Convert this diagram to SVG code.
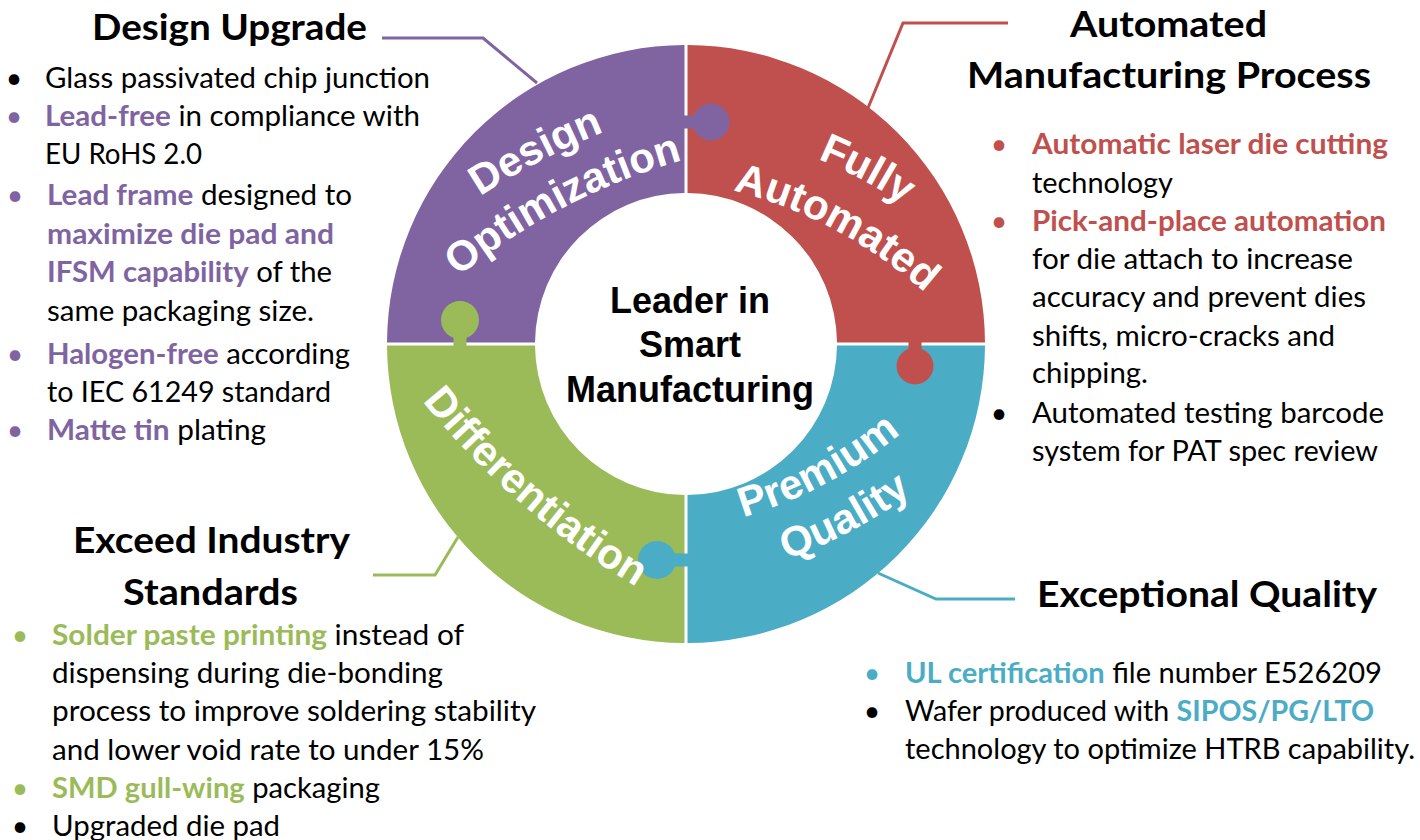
<svg xmlns="http://www.w3.org/2000/svg" width="1420" height="840" viewBox="0 0 1420 840">
<defs>
<style>
.body{font-family:Lato,'Liberation Sans',sans-serif;font-size:28.5px;fill:#000}
.head{font-family:Lato,'Liberation Sans',sans-serif;font-size:37px;font-weight:700;fill:#000}
.b{font-weight:700}
.pu{fill:#8064A2}.rd{fill:#C0504D}.bl{fill:#4BACC6}.gr{fill:#9BBB59}
.bul{font-family:Lato,'Liberation Sans',sans-serif;font-size:28.5px;text-anchor:middle}
.ring{font-family:'Liberation Sans',Arial,sans-serif;font-size:42px;font-weight:700;fill:#fff}
.ctr{font-family:'Liberation Sans',Arial,sans-serif;font-size:36px;font-weight:700;fill:#000;text-anchor:middle}
.lead{fill:none;stroke-width:3}
</style>
<path id="pOpt" d="M391.2,340 A629,629 0 0 1 772.9,141.4"/>
<path id="pDes" d="M352.9,304.9 A681,681 0 0 1 766.1,89.9"/>
<path id="pAut" d="M684.2,181 A457,457 0 0 1 960.2,327.8"/>
<path id="pFul" d="M692.1,124.6 A514,514 0 0 1 1002.6,289.7"/>
<path id="pPre" d="M678.5,531.2 A447,447 0 0 0 948.5,387.6"/>
<path id="pQua" d="M686,584.6 A501,501 0 0 0 988.6,423.7"/>
<path id="pDif" d="M390.6,358.5 A800,800 0 0 0 682.7,612.4"/>
</defs>
<rect width="1420" height="840" fill="#fff"/>

<g id="connectors">
<polyline class="lead" stroke="#8064A2" points="382,38 483,38 537,83"/>
<polyline class="lead" stroke="#C0504D" points="868,108 903,23 1008,23"/>
<polyline class="lead" stroke="#4BACC6" points="878,573 936,599 1015,599"/>
<polyline class="lead" stroke="#9BBB59" points="458,537 435,575 373,575"/>
</g>

<g id="ring">
<g id="seg-design">
<path class="pu" d="M387,342.5 A299,299 0 0 1 684.5,45 L684.5,193 A151,151 0 0 0 535,342.5 Z"/>
</g>
<g id="seg-automated">
<path class="rd" d="M687.5,45 A299,299 0 0 1 985,342.5 L837,342.5 A151,151 0 0 0 687.5,193 Z"/>
</g>
<g id="seg-quality">
<path class="bl" d="M985,345.5 A299,299 0 0 1 687.5,643 L687.5,495 A151,151 0 0 0 837,345.5 Z"/>
</g>
<g id="seg-diff">
<path class="gr" d="M684.5,643 A299,299 0 0 1 387,345.5 L535,345.5 A151,151 0 0 0 684.5,495 Z"/>
</g>
<g id="knobs">
<rect class="pu" x="682" y="115.5" width="20" height="13"/>
<circle class="pu" cx="711" cy="122" r="18.5"/>
<rect class="rd" x="908.5" y="340" width="13" height="18"/>
<circle class="rd" cx="915" cy="366" r="18.5"/>
<rect class="bl" x="670" y="553.5" width="20" height="13"/>
<circle class="bl" cx="657" cy="560" r="19"/>
<rect class="gr" x="453.5" y="330" width="13" height="19"/>
<circle class="gr" cx="460" cy="320" r="19"/>
</g>
<g id="ring-labels">
<text class="ring"><textPath href="#pDes" startOffset="50%" text-anchor="middle">Design</textPath></text>
<text class="ring"><textPath href="#pOpt" startOffset="50%" text-anchor="middle">Optimization</textPath></text>
<text class="ring"><textPath href="#pFul" startOffset="50%" text-anchor="middle">Fully</textPath></text>
<text class="ring"><textPath href="#pAut" startOffset="50%" text-anchor="middle">Automated</textPath></text>
<text class="ring"><textPath href="#pPre" startOffset="50%" text-anchor="middle">Premium</textPath></text>
<text class="ring"><textPath href="#pQua" startOffset="50%" text-anchor="middle">Quality</textPath></text>
<text class="ring"><textPath href="#pDif" startOffset="50%" text-anchor="middle">Differentiation</textPath></text>
</g>
</g>

<g id="center">
<text class="ctr" x="690" y="313">Leader in</text>
<text class="ctr" x="690" y="357">Smart</text>
<text class="ctr" x="690" y="402">Manufacturing</text>
</g>

<g id="design-upgrade">
<text class="head" x="92" y="40" textLength="275" lengthAdjust="spacingAndGlyphs">Design Upgrade</text>
<text class="bul" x="14" y="88">•</text>
<text class="body" x="45" y="88" textLength="385" lengthAdjust="spacingAndGlyphs">Glass passivated chip junction</text>
<text class="bul pu" x="14" y="126">•</text>
<text class="body" x="45" y="126" textLength="375" lengthAdjust="spacingAndGlyphs"><tspan class="b pu">Lead-free</tspan> in compliance with</text>
<text class="body" x="45" y="164" textLength="157" lengthAdjust="spacingAndGlyphs">EU RoHS 2.0</text>
<text class="bul pu" x="15" y="205">•</text>
<text class="body" x="47" y="205" textLength="305" lengthAdjust="spacingAndGlyphs"><tspan class="b pu">Lead frame</tspan> designed to</text>
<text class="body b pu" x="47" y="244" textLength="287" lengthAdjust="spacingAndGlyphs">maximize die pad and</text>
<text class="body" x="47" y="282" textLength="285" lengthAdjust="spacingAndGlyphs"><tspan class="b pu">IFSM capability</tspan> of the</text>
<text class="body" x="47" y="321" textLength="267" lengthAdjust="spacingAndGlyphs">same packaging size.</text>
<text class="bul pu" x="15" y="364">•</text>
<text class="body" x="47" y="364" textLength="303" lengthAdjust="spacingAndGlyphs"><tspan class="b pu">Halogen-free</tspan> according</text>
<text class="body" x="47" y="402" textLength="284" lengthAdjust="spacingAndGlyphs">to IEC 61249 standard</text>
<text class="bul pu" x="15" y="440">•</text>
<text class="body" x="47" y="440" textLength="219" lengthAdjust="spacingAndGlyphs"><tspan class="b pu">Matte tin</tspan> plating</text>
</g>

<g id="automated-process">
<text class="head" x="1070" y="37" textLength="197" lengthAdjust="spacingAndGlyphs">Automated</text>
<text class="head" x="967" y="88" textLength="404" lengthAdjust="spacingAndGlyphs">Manufacturing Process</text>
<text class="bul rd" x="999" y="154">•</text>
<text class="body b rd" x="1032" y="154" textLength="356" lengthAdjust="spacingAndGlyphs">Automatic laser die cutting</text>
<text class="body" x="1032" y="193" textLength="141" lengthAdjust="spacingAndGlyphs">technology</text>
<text class="bul rd" x="999" y="231">•</text>
<text class="body b rd" x="1032" y="231" textLength="354" lengthAdjust="spacingAndGlyphs">Pick-and-place automation</text>
<text class="body" x="1032" y="269" textLength="321" lengthAdjust="spacingAndGlyphs">for die attach to increase</text>
<text class="body" x="1032" y="307" textLength="334" lengthAdjust="spacingAndGlyphs">accuracy and prevent dies</text>
<text class="body" x="1032" y="346" textLength="303" lengthAdjust="spacingAndGlyphs">shifts, micro-cracks and</text>
<text class="body" x="1032" y="383" textLength="116" lengthAdjust="spacingAndGlyphs">chipping.</text>
<text class="bul" x="999" y="423">•</text>
<text class="body" x="1032" y="423" textLength="352" lengthAdjust="spacingAndGlyphs">Automated testing barcode</text>
<text class="body" x="1032" y="461" textLength="346" lengthAdjust="spacingAndGlyphs">system for PAT spec review</text>
</g>

<g id="exceed-standards">
<text class="head" x="73" y="553" textLength="277" lengthAdjust="spacingAndGlyphs">Exceed Industry</text>
<text class="head" x="123" y="605" textLength="175" lengthAdjust="spacingAndGlyphs">Standards</text>
<text class="bul gr" x="20" y="645">•</text>
<text class="body" x="52" y="645" textLength="412" lengthAdjust="spacingAndGlyphs"><tspan class="b gr">Solder paste printing</tspan> instead of</text>
<text class="body" x="52" y="683" textLength="391" lengthAdjust="spacingAndGlyphs">dispensing during die-bonding</text>
<text class="body" x="52" y="721" textLength="484" lengthAdjust="spacingAndGlyphs">process to improve soldering stability</text>
<text class="body" x="52" y="760" textLength="432" lengthAdjust="spacingAndGlyphs">and lower void rate to under 15%</text>
<text class="bul gr" x="20" y="798">•</text>
<text class="body" x="52" y="798" textLength="328" lengthAdjust="spacingAndGlyphs"><tspan class="b gr">SMD gull-wing</tspan> packaging</text>
<text class="bul" x="20" y="836">•</text>
<text class="body" x="52" y="836" textLength="228" lengthAdjust="spacingAndGlyphs">Upgraded die pad</text>
</g>

<g id="exceptional-quality">
<text class="head" x="1037" y="607" textLength="340" lengthAdjust="spacingAndGlyphs">Exceptional Quality</text>
<text class="bul bl" x="872" y="683">•</text>
<text class="body" x="905" y="683" textLength="477" lengthAdjust="spacingAndGlyphs"><tspan class="b bl">UL certification</tspan> file number E526209</text>
<text class="bul" x="872" y="721">•</text>
<text class="body" x="905" y="721" textLength="469" lengthAdjust="spacingAndGlyphs">Wafer produced with <tspan class="b bl">SIPOS/PG/LTO</tspan></text>
<text class="body" x="905" y="759" textLength="510" lengthAdjust="spacingAndGlyphs">technology to optimize HTRB capability.</text>
</g>
</svg>
